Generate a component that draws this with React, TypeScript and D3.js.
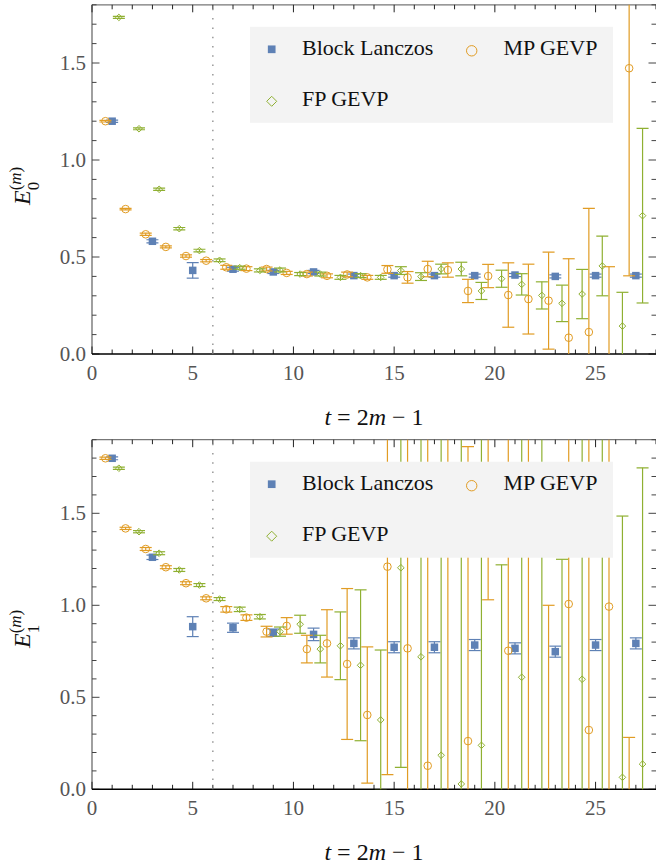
import React from "react";
import * as d3 from "d3";

// ---------- data ----------
const tGevp = [1, 2, 3, 4, 5, 6, 7, 8, 9, 10, 11, 12, 13, 14, 15, 16, 17, 18, 19, 20, 21, 22, 23, 24, 25, 26, 27];
const tLanczos = [1, 3, 5, 7, 9, 11, 13, 15, 17, 19, 21, 23, 25, 27];

const xTicksMajor = [0, 5, 10, 15, 20, 25];
const yTicksMajorTop = [0, 0.5, 1.0, 1.5];
const yTicksMajorBottom = [0, 0.5, 1.0, 1.5];

// E0 panel
const lanczosE0 = [1.2, 0.581, 0.431, 0.437, 0.423, 0.423, 0.404, 0.404, 0.404, 0.404, 0.407, 0.4, 0.404, 0.404];
const lanczosE0Err = [0.006, 0.008, 0.04, 0.01, 0.008, 0.008, 0.008, 0.008, 0.008, 0.008, 0.008, 0.008, 0.008, 0.008];
const mpE0 = [1.2, 0.747, 0.617, 0.552, 0.505, 0.481, 0.447, 0.44, 0.438, 0.418, 0.412, 0.403, 0.41, 0.395, 0.436, 0.395, 0.438, 0.433, 0.325, 0.402, 0.304, 0.283, 0.275, 0.084, 0.113, -0.2, 1.473];
const mpE0Err = [0.004, 0.004, 0.006, 0.005, 0.006, 0.006, 0.01, 0.01, 0.01, 0.008, 0.01, 0.01, 0.012, 0.01, 0.02, 0.03, 0.04, 0.037, 0.06, 0.06, 0.166, 0.18, 0.25, 0.407, 0.638, 0.65, 1.07];
const fpE0 = [1.735, 1.161, 0.849, 0.646, 0.533, 0.483, 0.445, 0.431, 0.433, 0.412, 0.412, 0.395, 0.404, 0.395, 0.43, 0.399, 0.438, 0.438, 0.325, 0.388, 0.359, 0.302, 0.261, 0.309, 0.454, 0.144, 0.713];
const fpE0Err = [0.005, 0.005, 0.006, 0.006, 0.007, 0.007, 0.008, 0.008, 0.01, 0.008, 0.01, 0.01, 0.01, 0.01, 0.02, 0.02, 0.025, 0.035, 0.044, 0.044, 0.055, 0.07, 0.094, 0.127, 0.154, 0.174, 0.45];

// E1 panel
const lanczosE1 = [1.799, 1.261, 0.884, 0.878, 0.851, 0.842, 0.793, 0.772, 0.772, 0.784, 0.766, 0.748, 0.784, 0.793];
const lanczosE1Err = [0.008, 0.012, 0.054, 0.025, 0.02, 0.034, 0.03, 0.03, 0.03, 0.03, 0.03, 0.03, 0.03, 0.03];
const mpE1 = [1.799, 1.418, 1.306, 1.207, 1.12, 1.038, 0.978, 0.933, 0.857, 0.888, 0.762, 0.793, 0.681, 0.404, 1.21, 0.766, 0.128, 2.2, 0.262, 2.6, 0.753, 2.5, -0.6, 1.007, 0.322, 0.993, -1.0];
const mpE1Err = [0.006, 0.006, 0.008, 0.008, 0.008, 0.008, 0.015, 0.015, 0.029, 0.045, 0.075, 0.183, 0.41, 0.37, 1.13, 1.3, 2.0, 2.5, 1.6, 1.57, 1.4, 2.7, 1.6, 1.2, 1.8, 1.2, 1.282];
const fpE1 = [1.745, 1.4, 1.283, 1.192, 1.11, 1.034, 0.978, 0.938, 0.857, 0.897, 0.762, 0.78, 0.674, 0.377, 1.204, 0.72, 0.185, 0.029, 0.239, -0.2, 0.609, -0.5, -0.5, 0.598, 2.2, 0.065, 0.137];
const fpE1Err = [0.006, 0.006, 0.008, 0.008, 0.008, 0.008, 0.012, 0.012, 0.025, 0.049, 0.075, 0.184, 0.41, 0.38, 1.085, 1.3, 2.0, 2.0, 1.8, 1.42, 1.5, 2.5, 1.75, 1.5, 2.5, 1.42, 1.61];

const seriesNames = ["Block Lanczos", "MP GEVP", "FP GEVP"];
const MP_SHIFT = -1 / 3;
const FP_SHIFT = 1 / 3;

// ---------- style ----------
const BLUE = "#5e81b5";
const ORANGE = "#e19c24";
const GREEN = "#8fb032";
const SERIF = '"Liberation Serif", "Times New Roman", Times, "DejaVu Serif"';

const X_LEFT = 92;
const X_RIGHT = 656;
const X_MAX = 28;

type PanelProps = {
  id: string;
  top: number;
  bottom: number;
  yMax: number;
  yTicks: number[];
  lanczos: number[];
  lanczosErr: number[];
  mp: number[];
  mpErr: number[];
  fp: number[];
  fpErr: number[];
  sub: string;
  labelStartY: number;
};

function ErrBar({ cx, y0, y1, color }: { cx: number; y0: number; y1: number; color: string }) {
  const cw = 6;
  return (
    <g stroke={color} strokeWidth={1.2} fill="none">
      <line x1={cx} x2={cx} y1={y0} y2={y1} />
      <line x1={cx - cw} x2={cx + cw} y1={y0} y2={y0} />
      <line x1={cx - cw} x2={cx + cw} y1={y1} y2={y1} />
    </g>
  );
}

function Square({ cx, cy, s, color }: { cx: number; cy: number; s: number; color: string }) {
  return <rect x={cx - s / 2} y={cy - s / 2} width={s} height={s} fill={color} />;
}
function Circle({ cx, cy, r, color }: { cx: number; cy: number; r: number; color: string }) {
  return <circle cx={cx} cy={cy} r={r} fill="none" stroke={color} strokeWidth={1} />;
}
function Diamond({ cx, cy, r, color }: { cx: number; cy: number; r: number; color: string }) {
  return (
    <path
      d={`M${cx},${cy - r}L${cx + r},${cy}L${cx},${cy + r}L${cx - r},${cy}Z`}
      fill="none"
      stroke={color}
      strokeWidth={1}
    />
  );
}

function Panel(p: PanelProps) {
  const x = d3.scaleLinear().domain([0, X_MAX]).range([X_LEFT, X_RIGHT]);
  const y = d3.scaleLinear().domain([0, p.yMax]).range([p.bottom, p.top]);
  const xMinor = d3.range(0, X_MAX + 0.5, 1);
  const yMinor = d3.range(0, p.yMax + 0.001, 0.1);
  const isMajorX = (v: number) => Math.abs(v % 5) < 1e-6;
  const isMajorY = (v: number) => Math.abs(Math.round(v * 10) % 5) < 1e-6;
  const fmt = d3.format(".1f");
  const clip = `clip-${p.id}`;
  const lgTop = p.top + 22;

  return (
    <g>
      <defs>
        <clipPath id={clip}>
          <rect x={X_LEFT} y={p.top} width={X_RIGHT - X_LEFT} height={p.bottom - p.top} />
        </clipPath>
      </defs>

      {/* frame */}
      <line x1={X_LEFT} x2={X_RIGHT} y1={p.top} y2={p.top} stroke="#777" strokeWidth={1.2} />
      <line x1={X_LEFT} x2={X_LEFT} y1={p.top} y2={p.bottom} stroke="#777" strokeWidth={1.4} />

      {/* x ticks (bottom & top) */}
      {xMinor.map((v) => {
        const len = isMajorX(v) ? 7.5 : 4.5;
        return (
          <g key={`xt${v}`} stroke="#222" strokeWidth={1}>
            <line x1={x(v)} x2={x(v)} y1={p.bottom} y2={p.bottom - len} />
            <line x1={x(v)} x2={x(v)} y1={p.top} y2={p.top + len} />
          </g>
        );
      })}
      {/* y ticks (left & right) */}
      {yMinor.map((v) => {
        const len = isMajorY(v) ? 7.5 : 4.5;
        return (
          <g key={`yt${v.toFixed(1)}`} stroke="#444" strokeWidth={1}>
            <line x1={X_LEFT} x2={X_LEFT + len} y1={y(v)} y2={y(v)} />
            <line x1={X_RIGHT} x2={X_RIGHT - len} y1={y(v)} y2={y(v)} />
          </g>
        );
      })}

      {/* tick labels */}
      {xTicksMajor.map((v) => (
        <text
          key={`xl${v}`}
          x={x(v)}
          y={p.bottom + 26}
          textAnchor="middle"
          fontFamily={SERIF}
          fontSize={21}
          fill="#555"
        >
          {v}
        </text>
      ))}
      {p.yTicks.map((v) => (
        <text
          key={`yl${v}`}
          x={X_LEFT - 6}
          y={y(v) + 7}
          textAnchor="end"
          fontFamily={SERIF}
          fontSize={21}
          fill="#555"
        >
          {fmt(v)}
        </text>
      ))}

      {/* bottom axis line */}
      <line x1={X_LEFT} x2={X_RIGHT} y1={p.bottom} y2={p.bottom} stroke="#000" strokeWidth={1.4} />

      {/* dotted line at t = 6 */}
      <line
        x1={x(6)}
        x2={x(6)}
        y1={p.top + 4}
        y2={p.bottom}
        stroke="#888"
        strokeWidth={1.3}
        strokeDasharray="1.5,7.8"
      />

      {/* data */}
      <g clipPath={`url(#${clip})`}>
        {tLanczos.map((t, i) => (
          <g key={`b${t}`}>
            <ErrBar
              cx={x(t)}
              y0={y(p.lanczos[i] - p.lanczosErr[i])}
              y1={y(p.lanczos[i] + p.lanczosErr[i])}
              color={BLUE}
            />
            <Square cx={x(t)} cy={y(p.lanczos[i])} s={7.5} color={BLUE} />
          </g>
        ))}
        {tGevp.map((t, i) => (
          <g key={`o${t}`}>
            <ErrBar
              cx={x(t + MP_SHIFT)}
              y0={y(p.mp[i] - p.mpErr[i])}
              y1={y(p.mp[i] + p.mpErr[i])}
              color={ORANGE}
            />
            <Circle cx={x(t + MP_SHIFT)} cy={y(p.mp[i])} r={3.8} color={ORANGE} />
          </g>
        ))}
        {tGevp.map((t, i) => (
          <g key={`g${t}`}>
            <ErrBar
              cx={x(t + FP_SHIFT)}
              y0={y(p.fp[i] - p.fpErr[i])}
              y1={y(p.fp[i] + p.fpErr[i])}
              color={GREEN}
            />
            <Diamond cx={x(t + FP_SHIFT)} cy={y(p.fp[i])} r={3.3} color={GREEN} />
          </g>
        ))}
      </g>

      {/* legend */}
      <rect x={250} y={lgTop} width={363} height={96} fill="#f3f3f3" />
      <Square cx={271.7} cy={lgTop + 22.5} s={7.7} color={BLUE} />
      <text x={302} y={lgTop + 28} fontFamily={SERIF} fontSize={22} fill="#111">
        {seriesNames[0]}
      </text>
      <Circle cx={471.7} cy={lgTop + 24} r={5.2} color={ORANGE} />
      <text x={503.5} y={lgTop + 28} fontFamily={SERIF} fontSize={22} fill="#111">
        {seriesNames[1]}
      </text>
      <Diamond cx={271.7} cy={lgTop + 74.5} r={5} color={GREEN} />
      <text x={302} y={lgTop + 79} fontFamily={SERIF} fontSize={22} fill="#111">
        {seriesNames[2]}
      </text>

      {/* x label */}
      <text
        x={(X_LEFT + X_RIGHT) / 2}
        y={p.bottom + 71}
        textAnchor="middle"
        fontFamily={SERIF}
        fontSize={24}
        fill="#111"
      >
        <tspan fontStyle="italic">t</tspan>
        <tspan> = 2</tspan>
        <tspan fontStyle="italic">m</tspan>
        <tspan> − 1</tspan>
      </text>

      {/* y label */}
      <text
        transform={`translate(30,${p.labelStartY}) rotate(-90)`}
        fontFamily={SERIF}
        fontSize={24}
        fill="#111"
      >
        <tspan fontStyle="italic">E</tspan>
        <tspan fontSize={17} dy={9}>
          {p.sub}
        </tspan>
        <tspan fontSize={17} dx={-8.5} dy={-18}>
          (<tspan fontStyle="italic">m</tspan>)
        </tspan>
      </text>
    </g>
  );
}

export default function App() {
  return (
    <svg
      width={656}
      height={867}
      style={{ position: "absolute", left: 0, top: 0, background: "#fff" }}
    >
      <rect x={0} y={0} width={656} height={867} fill="#fff" />
      <Panel
        id="top"
        top={4.8}
        bottom={354}
        yMax={1.8}
        yTicks={yTicksMajorTop}
        lanczos={lanczosE0}
        lanczosErr={lanczosE0Err}
        mp={mpE0}
        mpErr={mpE0Err}
        fp={fpE0}
        fpErr={fpE0Err}
        sub="0"
        labelStartY={205}
      />
      <Panel
        id="bot"
        top={439.7}
        bottom={789.3}
        yMax={1.9}
        yTicks={yTicksMajorBottom}
        lanczos={lanczosE1}
        lanczosErr={lanczosE1Err}
        mp={mpE1}
        mpErr={mpE1Err}
        fp={fpE1}
        fpErr={fpE1Err}
        sub="1"
        labelStartY={648}
      />
    </svg>
  );
}
